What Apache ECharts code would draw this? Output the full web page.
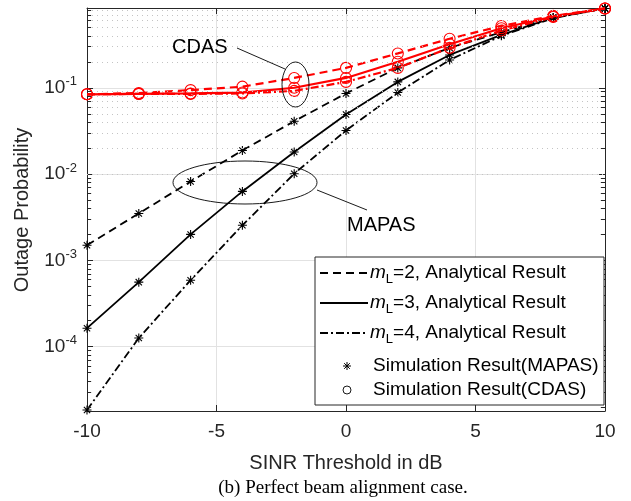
<!DOCTYPE html>
<html>
<head>
<meta charset="utf-8">
<script src="https://cdn.jsdelivr.net/npm/echarts@6/dist/echarts.min.js"></script>
<style>
  html, body { margin: 0; padding: 0; background: #fff; }
  #main { width: 631px; height: 501px; }
</style>
</head>
<body>
<div id="main"></div>
<script>
// SINR threshold (dB)
const snrDb = [-10, -8, -6, -4, -2, 0, 2, 4, 6, 8, 10];

// Outage probability, MAPAS
const mapasM2 = [1.5e-3, 3.5e-3, 8.2e-3, 0.0188, 0.041, 0.086, 0.17, 0.29, 0.44, 0.65, 0.83];
const mapasM3 = [1.64e-4, 5.6e-4, 2.0e-3, 6.3e-3, 0.018, 0.049, 0.117, 0.24, 0.41, 0.65, 0.83];
const mapasM4 = [1.85e-5, 1.26e-4, 5.9e-4, 2.55e-3, 0.0101, 0.032, 0.088, 0.21, 0.40, 0.64, 0.83];

// Outage probability, CDAS
const cdasM2 = [0.084, 0.087, 0.094, 0.103, 0.13, 0.17, 0.25, 0.37, 0.52, 0.68, 0.83];
const cdasM3 = [0.084, 0.085, 0.086, 0.088, 0.10, 0.13, 0.20, 0.32, 0.49, 0.67, 0.83];
const cdasM4 = [0.084, 0.085, 0.085, 0.086, 0.092, 0.117, 0.17, 0.29, 0.46, 0.66, 0.83];

// Axis ranges and ticks
const xTickLabels = [-10, -5, 0, 5, 10];
const xMin = xTickLabels[0], xMax = xTickLabels[xTickLabels.length - 1], xStep = 5;
const yMin = 1.8e-5, yMax = 0.84;
const minorSteps = [2, 3, 4, 5, 6, 7, 8, 9];
const decades = [-5, -4, -3, -2, -1];

const minorValues = [];
decades.forEach(d => minorSteps.forEach(m => {
  const v = m * Math.pow(10, d);
  if (v > yMin && v < yMax) minorValues.push(v);
}));

const AXIS = '#262626';
const FONT = '"Liberation Sans", Arial, Helvetica, sans-serif';
const DASH = [8, 5];
const DASHDOT = [8, 3, 2, 3];
const STAR = 'path://M0 -5 L0 5 M-5 0 L5 0 M-3.5 -3.5 L3.5 3.5 M-3.5 3.5 L3.5 -3.5';

const pairs = ys => snrDb.map((x, i) => [x, ys[i]]);

function curve(name, ys, color, dash, symbol, size, width) {
  return {
    name, type: 'line', data: pairs(ys),
    symbol, symbolSize: size, showSymbol: true,
    lineStyle: { color, width, type: dash },
    itemStyle: { color: 'transparent', borderColor: color, borderWidth: 1.1 },
    emphasis: { disabled: true },
    z: color === '#ff0000' ? 4 : 3
  };
}

const isDecade = v => {
  const e = Math.log10(v);
  return Math.abs(e - Math.round(e)) < 1e-3;
};

// minor tick marks on the left and right sides of the box (about 4 px long)
const tickLen = 0.16;
const minorTickLines = [];
minorValues.forEach(v => {
  minorTickLines.push([{ coord: [xMin, v] }, { coord: [xMin + tickLen, v] }]);
  minorTickLines.push([{ coord: [xMax - tickLen, v] }, { coord: [xMax, v] }]);
});

// small asterisk glyph for the legend, built from four strokes
function legendStar(cx, cy, r) {
  const d = r * 0.7071;
  return [[0, -r, 0, r], [-r, 0, r, 0], [-d, -d, d, d], [-d, d, d, -d]].map(s => ({
    type: 'line', z: 61,
    shape: { x1: cx + s[0], y1: cy + s[1], x2: cx + s[2], y2: cy + s[3] },
    style: { stroke: '#000', lineWidth: 1 }
  }));
}

const chart = echarts.init(document.getElementById('main'), null, { renderer: 'canvas' });

const option = {
  animation: false,
  backgroundColor: '#fff',
  grid: { left: 87, right: 26, top: 8, bottom: 90, containLabel: false },
  xAxis: [{
    type: 'value', min: xMin, max: xMax, interval: xStep, position: 'bottom',
    axisLine: { show: true, onZero: false, lineStyle: { color: AXIS, width: 1 } },
    axisTick: { show: true, inside: true, length: 6, lineStyle: { color: AXIS } },
    axisLabel: { color: AXIS, fontSize: 19, fontFamily: FONT, margin: 11 },
    splitLine: { show: true, lineStyle: { color: '#e2e2e2', width: 1 } }
  }, {
    type: 'value', min: xMin, max: xMax, interval: xStep, position: 'top',
    axisLine: { show: true, onZero: false, lineStyle: { color: AXIS, width: 1 } },
    axisTick: { show: true, inside: true, length: 6, lineStyle: { color: AXIS } },
    axisLabel: { show: false },
    splitLine: { show: false }
  }],
  yAxis: [{
    type: 'log', logBase: 10, min: yMin, max: yMax, position: 'left',
    axisLine: { show: true, onZero: false, lineStyle: { color: AXIS, width: 1 } },
    axisTick: { show: true, inside: true, length: 6, lineStyle: { color: AXIS } },
    axisLabel: {
      color: AXIS, fontFamily: FONT, margin: 10,
      formatter: v => isDecade(v) ? '{b|10}{s|' + Math.round(Math.log10(v)) + '}' : '',
      rich: {
        b: { fontSize: 19, fontFamily: FONT, color: AXIS },
        s: { fontSize: 13, fontFamily: FONT, color: AXIS, padding: [0, 0, 12, 0] }
      }
    },
    splitLine: { show: true, lineStyle: { color: '#e2e2e2', width: 1 } }
  }, {
    type: 'log', logBase: 10, min: yMin, max: yMax, position: 'right',
    axisLine: { show: true, onZero: false, lineStyle: { color: AXIS, width: 1 } },
    axisTick: { show: true, inside: true, length: 6, lineStyle: { color: AXIS } },
    axisLabel: { show: false },
    splitLine: { show: false }
  }],
  series: [
    {
      name: 'minor-grid', type: 'line', data: [], silent: true,
      markLine: {
        silent: true, symbol: ['none', 'none'], animation: false,
        label: { show: false },
        lineStyle: { color: '#c4c4c4', width: 1, type: [1, 4] },
        emphasis: { disabled: true },
        data: minorValues.map(v => ({ yAxis: v }))
      },
      z: 1
    },
    {
      name: 'minor-ticks', type: 'line', data: [], silent: true,
      markLine: {
        silent: true, symbol: ['none', 'none'], animation: false,
        label: { show: false },
        lineStyle: { color: AXIS, width: 1, type: 'solid' },
        emphasis: { disabled: true },
        data: minorTickLines
      },
      z: 1
    },
    curve('MAPAS mL=2', mapasM2, '#000000', DASH, STAR, 9, 1.8),
    curve('MAPAS mL=3', mapasM3, '#000000', 'solid', STAR, 9, 1.8),
    curve('MAPAS mL=4', mapasM4, '#000000', DASHDOT, STAR, 9, 1.8),
    curve('CDAS mL=2', cdasM2, '#ff0000', DASH, 'circle', 11, 2.2),
    curve('CDAS mL=3', cdasM3, '#ff0000', 'solid', 'circle', 11, 2.2),
    curve('CDAS mL=4', cdasM4, '#ff0000', DASHDOT, 'circle', 11, 2.2)
  ],
  graphic: [
    // annotations
    { type: 'ellipse', z: 50, shape: { cx: 295.5, cy: 84.5, rx: 13.5, ry: 22.5 },
      style: { fill: 'none', stroke: '#000', lineWidth: 0.9 } },
    { type: 'line', z: 50, shape: { x1: 237, y1: 48, x2: 285, y2: 69 },
      style: { stroke: '#000', lineWidth: 0.9 } },
    { type: 'text', z: 50, style: { text: 'CDAS', x: 172, y: 47, font: '20px ' + FONT,
      fill: '#000', verticalAlign: 'middle' } },
    { type: 'ellipse', z: 50, shape: { cx: 245, cy: 182.5, rx: 72, ry: 21.5 },
      style: { fill: 'none', stroke: '#000', lineWidth: 0.9 } },
    { type: 'line', z: 50, shape: { x1: 317, y1: 190, x2: 367, y2: 210 },
      style: { stroke: '#000', lineWidth: 0.9 } },
    { type: 'text', z: 50, style: { text: 'MAPAS', x: 347, y: 225, font: '20px ' + FONT,
      fill: '#000', verticalAlign: 'middle' } },

    // legend
    { type: 'rect', z: 60, shape: { x: 315, y: 257, width: 289, height: 148 },
      style: { fill: '#fff', stroke: AXIS, lineWidth: 1 } },
    { type: 'line', z: 61, shape: { x1: 320, y1: 273, x2: 368, y2: 273 },
      style: { stroke: '#000', lineWidth: 1.8, lineDash: DASH } },
    { type: 'line', z: 61, shape: { x1: 320, y1: 303, x2: 368, y2: 303 },
      style: { stroke: '#000', lineWidth: 1.8 } },
    { type: 'line', z: 61, shape: { x1: 320, y1: 333, x2: 368, y2: 333 },
      style: { stroke: '#000', lineWidth: 1.8, lineDash: DASHDOT } },
    ...['2', '3', '4'].map((m, i) => ({
      type: 'text', z: 61,
      style: {
        x: 370, y: 273 + i * 30, verticalAlign: 'middle',
        text: '{i|m}{sub|L}{t|=' + m + ', Analytical Result}',
        rich: {
          i: { fontSize: 19, fontFamily: FONT, fontStyle: 'italic', fill: '#000' },
          sub: { fontSize: 13, fontFamily: FONT, fill: '#000', padding: [12, 0, 0, 0] },
          t: { fontSize: 19, fontFamily: FONT, fill: '#000' }
        }
      }
    })),
    ...legendStar(347, 366, 4),
    { type: 'text', z: 61, style: { text: 'Simulation Result(MAPAS)', x: 373, y: 366,
      font: '19px ' + FONT, fill: '#000', verticalAlign: 'middle' } },
    { type: 'circle', z: 61, shape: { cx: 347, cy: 390, r: 4 },
      style: { fill: 'none', stroke: '#000', lineWidth: 0.9 } },
    { type: 'text', z: 61, style: { text: 'Simulation Result(CDAS)', x: 373, y: 390,
      font: '19px ' + FONT, fill: '#000', verticalAlign: 'middle' } },

    // axis titles and caption
    { type: 'text', z: 50, style: { text: 'SINR Threshold in dB', x: 346, y: 463,
      font: '20px ' + FONT, fill: AXIS, align: 'center', verticalAlign: 'middle' } },
    { type: 'text', z: 50, x: 22, y: 210, rotation: Math.PI / 2,
      style: { text: 'Outage Probability', x: 0, y: 0,
        font: '20px ' + FONT, fill: AXIS, align: 'center', verticalAlign: 'middle' } },
    { type: 'text', z: 50, style: { text: '(b) Perfect beam alignment case.', x: 343, y: 488,
      font: '19px "Liberation Serif", "Times New Roman", serif', fill: '#000',
      align: 'center', verticalAlign: 'middle' } }
  ]
};

chart.setOption(option);
</script>
</body>
</html>
